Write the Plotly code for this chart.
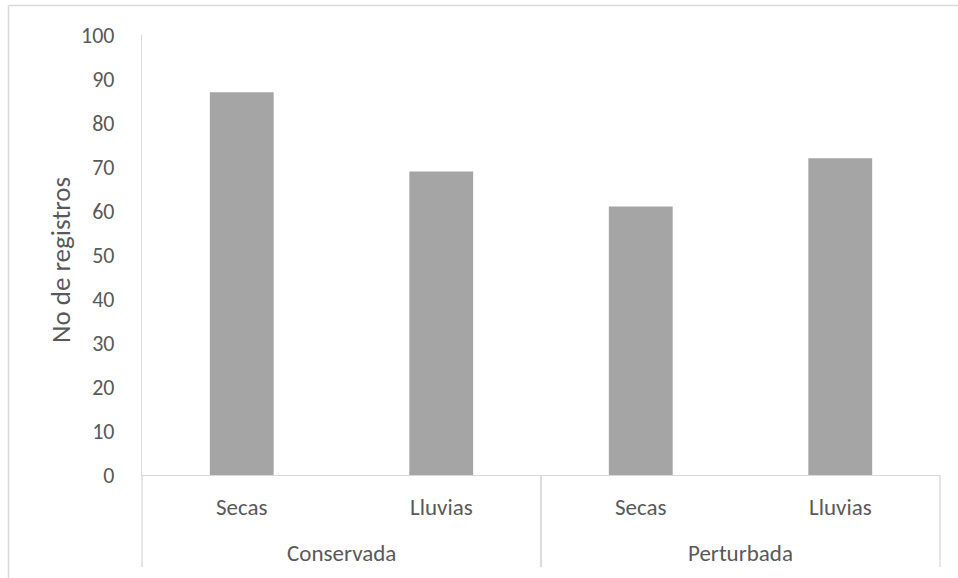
import plotly.graph_objects as go

# Registros por condición del sitio y temporada
condiciones = ["Conservada", "Conservada", "Perturbada", "Perturbada"]
temporadas = ["Secas", "Lluvias", "Secas", "Lluvias"]
registros = [87, 69, 61, 72]
y_ticks = list(range(0, 101, 10))

W, H = 958, 578
L, R, T, B = 142, 18, 35, 103
PW, PH = W - L - R, H - T - B

FONT = "Calibri, Carlito, Lato, sans-serif"
TXT = "#595959"
LINE = "#D9D9D9"
BAR = "#A5A5A5"


def px_x(px):
    return (px - L) / PW


def px_y(py):
    return (H - B - py) / PH


pos = list(range(len(registros)))

fig = go.Figure(
    go.Bar(
        x=pos,
        y=registros,
        width=0.32,
        marker=dict(color=BAR, line=dict(width=0)),
        hoverinfo="skip",
    )
)

annotations = []
# Etiquetas de temporada bajo cada barra
for p, t in zip(pos, temporadas):
    annotations.append(dict(
        x=p, xref="x", y=0, yref="paper", yshift=-32,
        text=t, showarrow=False, xanchor="center", yanchor="middle",
        font=dict(family=FONT, size=23, color=TXT),
    ))

# Etiquetas de grupo y divisores
grupos = []
for i, c in enumerate(condiciones):
    if not grupos or grupos[-1][0] != c:
        grupos.append([c, i, i])
    else:
        grupos[-1][2] = i

shapes = []
n = len(registros)
y_bottom = px_y(567)
for c, a, b in grupos:
    annotations.append(dict(
        x=(a + b) / 2, xref="x", y=0, yref="paper", yshift=-78,
        text=c, showarrow=False, xanchor="center", yanchor="middle",
        font=dict(family=FONT, size=23, color=TXT),
    ))
    for edge in (a / n, (b + 1) / n):
        shapes.append(dict(
            type="line", xref="x domain", yref="paper",
            x0=edge, x1=edge, y0=y_bottom, y1=0,
            line=dict(color=LINE, width=1.3),
        ))

# Título del eje Y
annotations.append(dict(
    x=px_x(60), xref="paper", y=px_y(260), yref="paper",
    text="No de registros", textangle=-90, showarrow=False,
    xanchor="center", yanchor="middle",
    font=dict(family=FONT, size=27, color=TXT),
))

# Borde del área del gráfico
top_y = px_y(5.5)
left_x = px_x(8.5)
shapes.append(dict(type="line", xref="paper", yref="paper",
                   x0=left_x, x1=px_x(W + 5), y0=top_y, y1=top_y,
                   line=dict(color=LINE, width=1.5)))
shapes.append(dict(type="line", xref="paper", yref="paper",
                   x0=left_x, x1=left_x, y0=top_y, y1=px_y(H + 5),
                   line=dict(color=LINE, width=1.5)))

fig.update_layout(
    width=W, height=H,
    margin=dict(l=L, r=R, t=T, b=B),
    paper_bgcolor="white", plot_bgcolor="white",
    showlegend=False,
    xaxis=dict(
        range=[-0.5, n - 0.5], showticklabels=False, ticks="",
        showgrid=False, zeroline=False,
        showline=True, linecolor=LINE, linewidth=1.3,
    ),
    yaxis=dict(
        range=[0, 100], tickvals=y_ticks, ticks="",
        showgrid=False, zeroline=False,
        showline=True, linecolor=LINE, linewidth=1.3,
        tickfont=dict(family=FONT, size=22, color=TXT),
        ticklabelstandoff=22,
    ),
    annotations=annotations,
    shapes=shapes,
)

fig.write_html("out.html")
